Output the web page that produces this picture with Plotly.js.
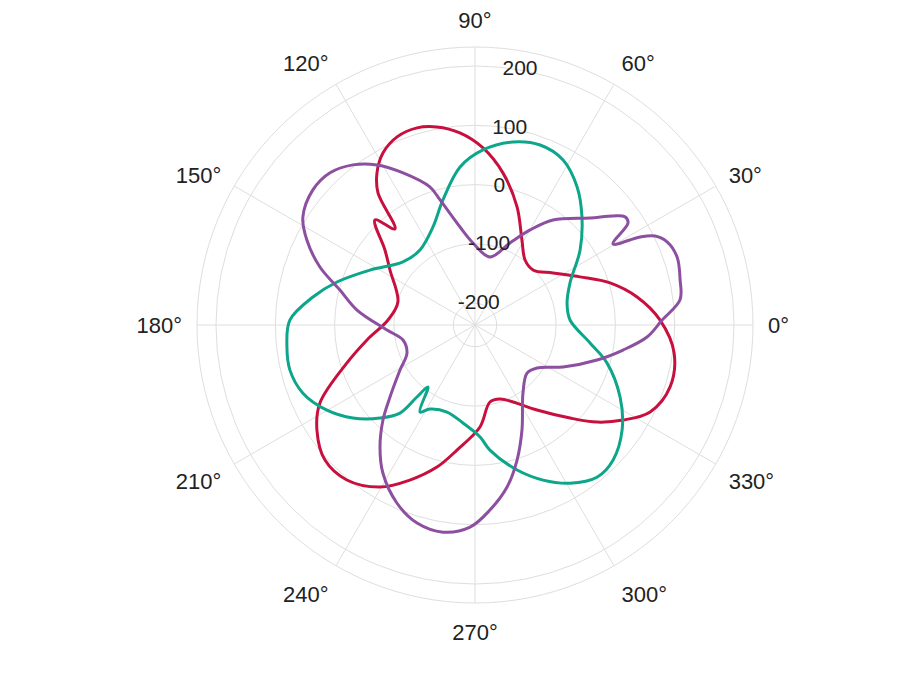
<!DOCTYPE html>
<html>
<head>
<meta charset="utf-8">
<script src="https://cdn.plot.ly/plotly-3.0.1.min.js"></script>
<style>html,body{margin:0;padding:0;background:#fff;}#chart{width:916px;height:686px;}</style>
</head>
<body>
<div id="chart"></div>
<script>
// Red series (theta in degrees, r in data units), path order
var redTheta = [1.5, 352, 342.4, 333.6, 327.3, 321.5, 315.6, 306.1, 296.3, 288.7, 281, 272.8, 261.8, 255, 247.2, 239.6, 230.4, 222, 213.6, 206.7, 196.5, 187.9, 176.7, 163.4, 147.1, 140.2, 133.6, 129.8, 126.3, 122.8, 118.1, 112.5, 106.4, 100.9, 94.5, 87.4, 79.6, 70.4, 61.1, 52.4, 43.5, 33.7, 24.6, 17.3, 9.8, 1.5];
var redR = [75.5, 102.3, 108.4, 93, 60, 26.3, -12.4, -59.2, -91.8, -104.9, -104.4, -64.4, -23.6, 11.3, 46.9, 80.1, 102.4, 103.7, 83.3, 56, -11.5, -52.8, -89.7, -101, -65.9, -39, 7.9, -25.8, 39.6, 68.4, 92.4, 106.6, 109.8, 103.4, 88.2, 62.2, 24.1, -25.3, -72.9, -98.3, -101.8, -78.6, -41.8, 1.8, 40.6, 75.5];

// Green series
var greenTheta = [104.4, 95.4, 87.4, 78.3, 70.1, 61.9, 53.5, 45.3, 35.5, 23.9, 13.4, 3, 351.1, 343.9, 333.6, 324.5, 315.6, 308.7, 301, 293.7, 286.2, 276.8, 272.6, 263, 252.2, 241.8, 237.7, 232.8, 231.1, 229.6, 224.4, 217.3, 209.9, 201.6, 193.7, 186.7, 178.5, 170.2, 162.7, 152.4, 138.8, 126.3, 113.2, 104.4];
var greenR = [-19, 31, 58.8, 78.6, 86.1, 78.7, 52.8, 19.7, -19, -61.4, -77.1, -76.2, -40.3, -4.9, 36.4, 68, 89, 92.1, 74.4, 48.9, 18, -24.3, -47.6, -70.1, -82.5, -75.9, -63.1, -105.4, -80.6, -41.6, -12.4, 22.1, 51.3, 75.4, 84.5, 82.6, 75.6, 40.6, 7.1, -36.8, -75.2, -79.8, -56.8, -19];

// Purple series
var purpleTheta = [1.5, 7, 12.4, 18.6, 23.4, 26.3, 28.1, 30.4, 33.7, 35.8, 38.3, 42.9, 53.4, 59.9, 66.9, 77.6, 91.4, 98.7, 105.6, 108.1, 115.3, 121.5, 127.3, 133.6, 140.2, 147.9, 153.2, 159.5, 165.5, 172.8, 183.3, 191.8, 202.4, 211, 220.3, 225.9, 232.1, 238.1, 246.3, 253.7, 261.2, 268.6, 274.6, 281.2, 287.3, 294.1, 305.2, 317.3, 325.3, 334.5, 344, 350.4, 356, 1.5];
var purpleR = [78.9, 111.6, 117.4, 122.8, 116.2, 102, 78.7, 33.2, 73.5, 75, 60, 28.3, -16, -51.4, -86.2, -119.2, -98.3, -69.5, -17.7, 8.3, 47, 79.8, 102.7, 117.7, 119.1, 105.9, 80.9, 42.5, -1.4, -36.1, -88, -112.6, -112.6, -89.1, -48.7, -13.7, 24.1, 57.3, 91.1, 111.3, 116.7, 104.2, 76.4, 41.8, 1.8, -42.7, -96.3, -117.2, -109.3, -72.2, -22.6, 16.5, 54.1, 78.9];

// Radial ticks and their labels
var radialTicks = [-200, -100, 0, 100, 200];
var radialTickLabels = ['-200', '-100', '0', '100', '200'];
var radialRange = [-236.6, 232];
var radialLabelAngle = 80;

var font = 'Arial, "Liberation Sans", sans-serif';

function trace(theta, r, color, name) {
  return {
    type: 'scatterpolar', mode: 'lines', name: name,
    theta: theta, r: r,
    line: {color: color, width: 3, shape: 'spline', smoothing: 1},
    hoverinfo: 'skip'
  };
}

var data = [
  trace(redTheta, redR, '#c8103e', 'Red'),
  trace(greenTheta, greenR, '#0da68a', 'Green'),
  trace(purpleTheta, purpleR, '#8d4f9f', 'Purple'),
  {
    type: 'scatterpolar', mode: 'text', name: 'radial labels',
    r: radialTicks,
    theta: radialTicks.map(function () { return radialLabelAngle; }),
    text: radialTickLabels,
    textposition: 'middle center',
    textfont: {family: font, size: 21, color: '#222'},
    hoverinfo: 'skip', cliponaxis: false
  }
];

var layout = {
  width: 916, height: 686,
  margin: {l: 114, r: 80, t: 47, b: 83, pad: 0},
  paper_bgcolor: '#fff',
  showlegend: false,
  font: {family: font, size: 22, color: '#222'},
  polar: {
    bgcolor: '#fff',
    domain: {x: [0, 1], y: [0, 1]},
    radialaxis: {
      range: radialRange,
      tickvals: radialTicks,
      angle: 90,
      showline: false,
      showticklabels: false,
      ticks: '',
      gridcolor: '#dedede',
      gridwidth: 1
    },
    angularaxis: {
      dtick: 30,
      direction: 'counterclockwise',
      rotation: 0,
      ticks: 'outside',
      ticklen: 10,
      tickcolor: 'rgba(0,0,0,0)',
      showline: true,
      linecolor: '#dedede',
      linewidth: 1,
      gridcolor: '#dedede',
      gridwidth: 1,
      tickfont: {family: font, size: 22, color: '#222'}
    }
  }
};

Plotly.newPlot('chart', data, layout, {displayModeBar: false, staticPlot: true});
</script>
</body>
</html>
